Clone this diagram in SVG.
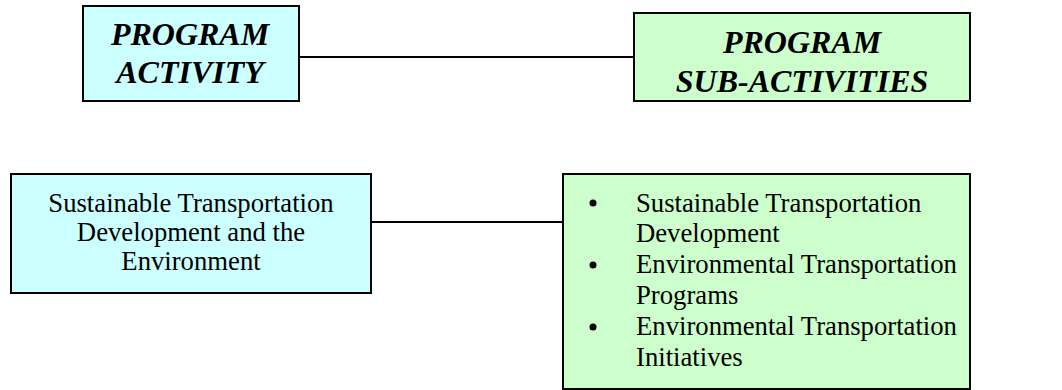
<svg xmlns="http://www.w3.org/2000/svg" width="1062" height="390" viewBox="0 0 1062 390">
<style>
.box{stroke:#000;stroke-width:2}
.blue{fill:#CCFFFF}
.green{fill:#CCFFCC}
.head{font-family:"Liberation Serif","Times New Roman",serif;font-size:32px;font-weight:bold;font-style:italic;fill:#000;text-anchor:middle}
.body{font-family:"Liberation Serif","Times New Roman",serif;font-size:26.7px;fill:#000}
.conn{stroke:#000;stroke-width:2;fill:none}
</style>
<rect width="1062" height="390" fill="#fff"/>
<g id="connectors">
<line class="conn" x1="299" y1="57" x2="634" y2="57"/>
<line class="conn" x1="371" y1="222" x2="563" y2="222"/>
</g>
<g id="program-activity">
<rect class="box blue" x="83" y="6" width="216" height="95"/>
<text class="head" x="190" y="45">PROGRAM</text>
<text class="head" x="190" y="83">ACTIVITY</text>
</g>
<g id="program-sub-activities">
<rect class="box green" x="634" y="13" width="336" height="88"/>
<text class="head" x="802" y="53">PROGRAM</text>
<text class="head" x="802" y="92">SUB-ACTIVITIES</text>
</g>
<g id="activity">
<rect class="box blue" x="11" y="174" width="360" height="119"/>
<text class="body" x="191" y="212" text-anchor="middle">Sustainable Transportation</text>
<text class="body" x="191" y="241" text-anchor="middle">Development and the</text>
<text class="body" x="191" y="270" text-anchor="middle">Environment</text>
</g>
<g id="sub-activities">
<rect class="box green" x="563" y="174" width="407" height="215"/>
<circle cx="593" cy="203" r="3.5" fill="#000"/>
<circle cx="593" cy="265" r="3.5" fill="#000"/>
<circle cx="593" cy="327" r="3.5" fill="#000"/>
<text class="body" x="636" y="212">Sustainable Transportation</text>
<text class="body" x="636" y="242">Development</text>
<text class="body" x="636" y="273">Environmental Transportation</text>
<text class="body" x="636" y="304">Programs</text>
<text class="body" x="636" y="335">Environmental Transportation</text>
<text class="body" x="636" y="366">Initiatives</text>
</g>
</svg>
